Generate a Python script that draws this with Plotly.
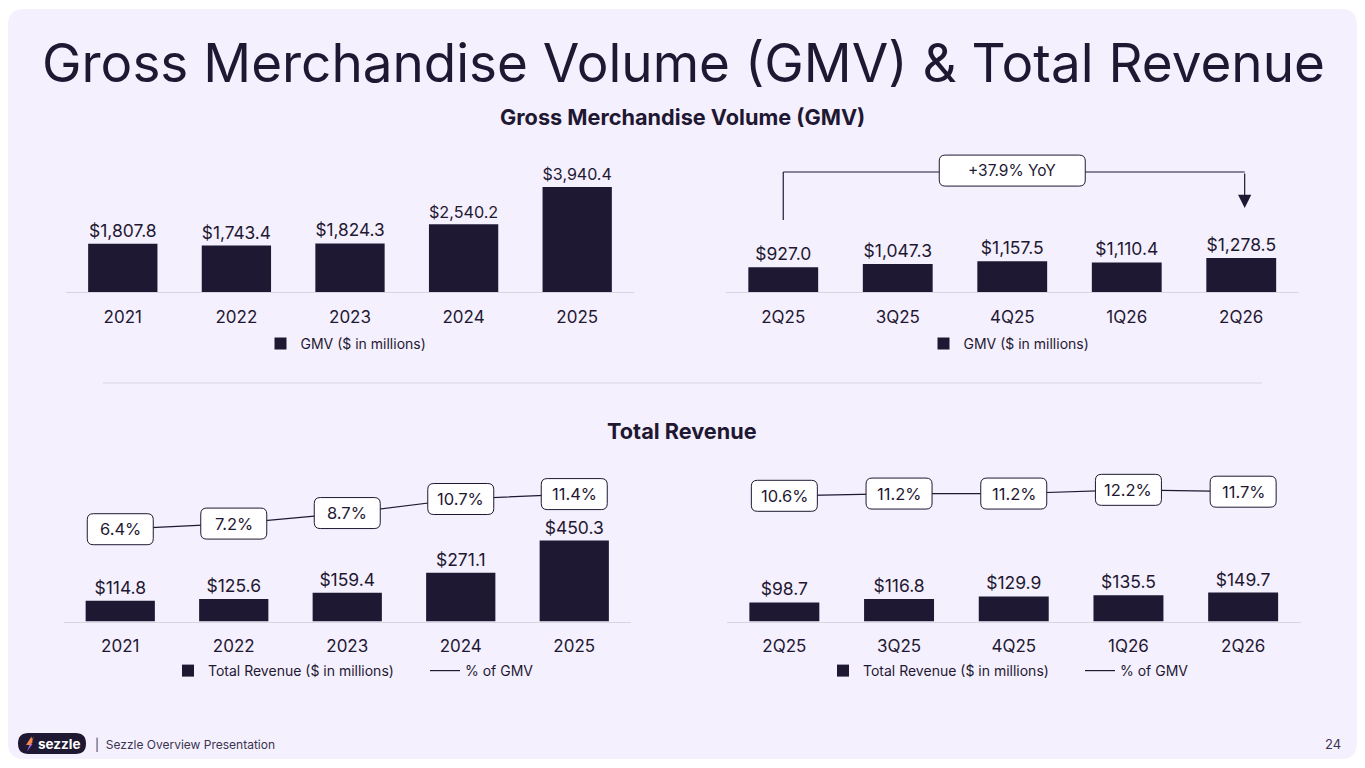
import plotly.graph_objects as go

# ---------------- data ----------------
years = ["2021", "2022", "2023", "2024", "2025"]
gmv_annual = [1807.8, 1743.4, 1824.3, 2540.2, 3940.4]

quarters = ["2Q25", "3Q25", "4Q25", "1Q26", "2Q26"]
gmv_quarterly = [927.0, 1047.3, 1157.5, 1110.4, 1278.5]
yoy_label = "+37.9% YoY"

rev_annual = [114.8, 125.6, 159.4, 271.1, 450.3]
rev_annual_pct = [6.4, 7.2, 8.7, 10.7, 11.4]

rev_quarterly = [98.7, 116.8, 129.9, 135.5, 149.7]
rev_quarterly_pct = [10.6, 11.2, 11.2, 12.2, 11.7]

title_text = "Gross Merchandise Volume (GMV) & Total Revenue"
gmv_section = "Gross Merchandise Volume (GMV)"
rev_section = "Total Revenue"
gmv_legend = "GMV ($ in millions)"
rev_legend = "Total Revenue ($ in millions)"
pct_legend = "% of GMV"
footer_text = "|  Sezzle Overview Presentation"
page_no = "24"

# ---------------- style ----------------
W, H = 1365, 768
DARK = "#1f1833"
TEXT = "#1f1833"
PANEL = "#f5f0fd"
AXIS = "#d9d3e2"
FONT = "Inter"


def px_x(p):
    return p / W


def px_y(p):
    return (H - p) / H


def rrect(w, h, r):
    a, b = w / 2, h / 2
    return (f"M {-a + r},{-b} L {a - r},{-b} Q {a},{-b} {a},{-b + r} "
            f"L {a},{b - r} Q {a},{b} {a - r},{b} L {-a + r},{b} "
            f"Q {-a},{b} {-a},{b - r} L {-a},{-b + r} Q {-a},{-b} {-a + r},{-b} Z")


fig = go.Figure()

bar_common = dict(marker=dict(color=DARK, line=dict(width=0)), width=0.61,
                  textposition="outside", cliponaxis=False,
                  textfont=dict(family=FONT, size=17.5, color=TEXT),
                  texttemplate="$%{y:,.1f}", hoverinfo="skip")

fig.add_trace(go.Bar(x=years, y=gmv_annual, name=gmv_legend, xaxis="x", yaxis="y",
                     legend="legend", **bar_common))
fig.add_trace(go.Bar(x=quarters, y=gmv_quarterly, name=gmv_legend, xaxis="x2", yaxis="y2",
                     legend="legend2", **bar_common))
fig.add_trace(go.Bar(x=years, y=rev_annual, name=rev_legend, xaxis="x3", yaxis="y3",
                     legend="legend3", **bar_common))
fig.add_trace(go.Scatter(x=years, y=rev_annual_pct, name=pct_legend, mode="lines",
                         line=dict(color=DARK, width=1.2), xaxis="x3", yaxis="y5",
                         legend="legend3", hoverinfo="skip", cliponaxis=False))
fig.add_trace(go.Bar(x=quarters, y=rev_quarterly, name=rev_legend, xaxis="x4", yaxis="y4",
                     legend="legend4", **bar_common))
fig.add_trace(go.Scatter(x=quarters, y=rev_quarterly_pct, name=pct_legend, mode="lines",
                         line=dict(color=DARK, width=1.2), xaxis="x4", yaxis="y6",
                         legend="legend4", hoverinfo="skip", cliponaxis=False))

xcommon = dict(type="category", showgrid=False, zeroline=False, showline=True,
               linecolor=AXIS, linewidth=1.2, ticks="", ticklabelstandoff=9,
               tickfont=dict(family=FONT, size=17, color=TEXT), fixedrange=True)
ycommon = dict(showgrid=False, zeroline=False, showline=False, showticklabels=False,
               ticks="", fixedrange=True)

top_dom = [px_y(292), px_y(150)]
bot_dom = [px_y(621.5), px_y(470)]

fig.update_layout(
    xaxis=dict(domain=[px_x(66), px_x(634)], anchor="y", range=[-0.5, 4.5], **xcommon),
    yaxis=dict(domain=top_dom, anchor="x", range=[0, 5330], **ycommon),
    xaxis2=dict(domain=[px_x(726), px_x(1298.5)], anchor="y2", range=[-0.5, 4.5], **xcommon),
    yaxis2=dict(domain=top_dom, anchor="x2", range=[0, 5330], **ycommon),
    xaxis3=dict(domain=[px_x(63.5), px_x(631)], anchor="y3", range=[-0.5, 4.5], **xcommon),
    yaxis3=dict(domain=bot_dom, anchor="x3", range=[0, 843], **ycommon),
    xaxis4=dict(domain=[px_x(727), px_x(1300.5)], anchor="y4", range=[-0.5, 4.5], **xcommon),
    yaxis4=dict(domain=bot_dom, anchor="x4", range=[0, 785], **ycommon),
    yaxis5=dict(overlaying="y3", anchor="x3", side="right", range=[-6.74, 14.83], **ycommon),
    yaxis6=dict(overlaying="y4", anchor="x4", side="right", range=[-23.0, 17.5], **ycommon),
)

leg_common = dict(orientation="h", yanchor="middle", xanchor="center", bgcolor="rgba(0,0,0,0)",
                  font=dict(family=FONT, size=14, color=TEXT), itemclick=False,
                  itemdoubleclick=False)
fig.update_layout(
    legend=dict(x=px_x(346), y=px_y(344), **leg_common),
    legend2=dict(x=px_x(1009), y=px_y(344), **leg_common),
    legend3=dict(x=px_x(425), y=px_y(671), entrywidth=212, **leg_common),
    legend4=dict(x=px_x(1080), y=px_y(671), entrywidth=212, **leg_common),
)

shapes = []
annotations = []

# background panel (rounded)
rx, ry = 16 / W, 16 / H
x0, x1, y0, y1 = px_x(8), px_x(1357), px_y(759), px_y(9)
shapes.append(dict(type="path", xref="paper", yref="paper", layer="below",
                   fillcolor=PANEL, line=dict(width=0),
                   path=(f"M {x0 + rx},{y0} L {x1 - rx},{y0} Q {x1},{y0} {x1},{y0 + ry} "
                         f"L {x1},{y1 - ry} Q {x1},{y1} {x1 - rx},{y1} L {x0 + rx},{y1} "
                         f"Q {x0},{y1} {x0},{y1 - ry} L {x0},{y0 + ry} Q {x0},{y0} {x0 + rx},{y0} Z")))

# divider
shapes.append(dict(type="line", xref="paper", yref="paper", x0=px_x(103), x1=px_x(1262),
                   y0=px_y(383), y1=px_y(383), line=dict(color=AXIS, width=1.2)))

# YoY bracket on quarterly GMV chart
bracket_top, bracket_bottom_left = 0.845, 0.507
first_i, last_i, mid_i = 0, len(quarters) - 1, len(quarters) // 2
shapes.append(dict(type="line", xref="x2", yref="y2 domain", x0=first_i, x1=first_i,
                   y0=bracket_bottom_left, y1=bracket_top, line=dict(color=DARK, width=1.2)))
shapes.append(dict(type="line", xref="x2", yref="y2 domain", x0=first_i, x1=last_i + 0.03,
                   y0=bracket_top, y1=bracket_top, line=dict(color=DARK, width=1.2)))
shapes.append(dict(type="path", xref="x2", yref="y2 domain", xsizemode="pixel",
                   ysizemode="pixel", xanchor=mid_i, yanchor=bracket_top + 0.01,
                   path=rrect(146, 31, 6), fillcolor="white",
                   line=dict(color=DARK, width=1), layer="above"))
annotations.append(dict(xref="x2", yref="y2 domain", x=mid_i, y=bracket_top + 0.01,
                        text=yoy_label, showarrow=False, xanchor="center", yanchor="middle",
                        font=dict(family=FONT, size=15.5, color=TEXT)))
annotations.append(dict(xref="x2", yref="y2 domain", x=last_i + 0.03, y=0.592, text="",
                        showarrow=True, arrowhead=2, arrowsize=2.2, arrowwidth=1.2,
                        arrowcolor=DARK, axref="pixel", ayref="pixel", ax=0, ay=-36))

# % of GMV labels
for xa, ya, vals in [("x3", "y5", rev_annual_pct), ("x4", "y6", rev_quarterly_pct)]:
    for i, v in enumerate(vals):
        shapes.append(dict(type="path", xref=xa, yref=ya, xsizemode="pixel",
                           ysizemode="pixel", xanchor=i, yanchor=v,
                           path=rrect(66, 31, 6), fillcolor="white",
                           line=dict(color=DARK, width=1), layer="above"))
        annotations.append(dict(xref=xa, yref=ya, x=i, y=v, text=f"{v:.1f}%",
                                showarrow=False, xanchor="center", yanchor="middle",
                                font=dict(family=FONT, size=16.5, color=TEXT)))

# titles
annotations.append(dict(xref="paper", yref="paper", x=px_x(683), y=px_y(63), text=title_text,
                        showarrow=False, xanchor="center", yanchor="middle",
                        font=dict(family=FONT, size=53, color=TEXT)))
annotations.append(dict(xref="paper", yref="paper", x=px_x(682), y=px_y(117),
                        text=f"<b>{gmv_section}</b>", showarrow=False,
                        xanchor="center", yanchor="middle",
                        font=dict(family=FONT, size=21.7, color=TEXT)))
annotations.append(dict(xref="paper", yref="paper", x=px_x(682), y=px_y(431),
                        text=f"<b>{rev_section}</b>", showarrow=False,
                        xanchor="center", yanchor="middle",
                        font=dict(family=FONT, size=21.7, color=TEXT)))

# footer
lx0, lx1, ly0, ly1 = px_x(18), px_x(86), px_y(754), px_y(733)
lr_x, lr_y = 10.5 / W, 10.5 / H
shapes.append(dict(type="path", xref="paper", yref="paper", fillcolor=DARK, line=dict(width=0),
                   path=(f"M {lx0 + lr_x},{ly0} L {lx1 - lr_x},{ly0} Q {lx1},{ly0} {lx1},{ly0 + lr_y} "
                         f"Q {lx1},{ly1} {lx1 - lr_x},{ly1} L {lx0 + lr_x},{ly1} "
                         f"Q {lx0},{ly1} {lx0},{ly1 - lr_y} Q {lx0},{ly0} {lx0 + lr_x},{ly0} Z")))
bolt_top_x = [28.5, 34, 31.5, 29.5]
bolt_top_y = [744, 736.5, 742.5, 744]
bolt_bot_x = [29.5, 32.5, 27, 29.5]
bolt_bot_y = [744, 744, 751.5, 745]
for bxs, bys, col in [(bolt_top_x, bolt_top_y, "#f5894d"), (bolt_bot_x, bolt_bot_y, "#9f6bf0")]:
    shapes.append(dict(type="path", xref="paper", yref="paper", fillcolor=col,
                       line=dict(width=0),
                       path="M " + " L ".join(f"{px_x(a)},{px_y(b)}" for a, b in zip(bxs, bys)) + " Z"))
shapes.append(dict(type="path", xref="paper", yref="paper", fillcolor="#f5894d",
                   line=dict(width=0),
                   path=(f"M {px_x(31.5)},{px_y(736.5)} L {px_x(26)},{px_y(745)} "
                         f"L {px_x(30)},{px_y(745)} L {px_x(32.5)},{px_y(742.5)} Z")))
annotations.append(dict(xref="paper", yref="paper", x=px_x(59.5), y=px_y(743.5),
                        text="<b>sezzle</b>", showarrow=False, xanchor="center", yanchor="middle",
                        font=dict(family=FONT, size=13.5, color="white")))
annotations.append(dict(xref="paper", yref="paper", x=px_x(93), y=px_y(744),
                        xanchor="left", yanchor="middle",
                        text=footer_text, showarrow=False,
                        font=dict(family=FONT, size=12, color="#3b3450")))
annotations.append(dict(xref="paper", yref="paper", x=px_x(1343), y=px_y(744),
                        xanchor="right", yanchor="middle",
                        text=page_no, showarrow=False,
                        font=dict(family=FONT, size=13, color="#3b3450")))

fig.update_layout(
    width=W, height=H, margin=dict(l=0, r=0, t=0, b=0),
    paper_bgcolor="white", plot_bgcolor="rgba(0,0,0,0)",
    showlegend=True, bargap=0.39, hovermode=False,
    font=dict(family=FONT, color=TEXT),
    shapes=shapes, annotations=annotations,
)

fig.write_html("out.html", config={"displayModeBar": False},
               post_script="document.body.style.margin='0';")
